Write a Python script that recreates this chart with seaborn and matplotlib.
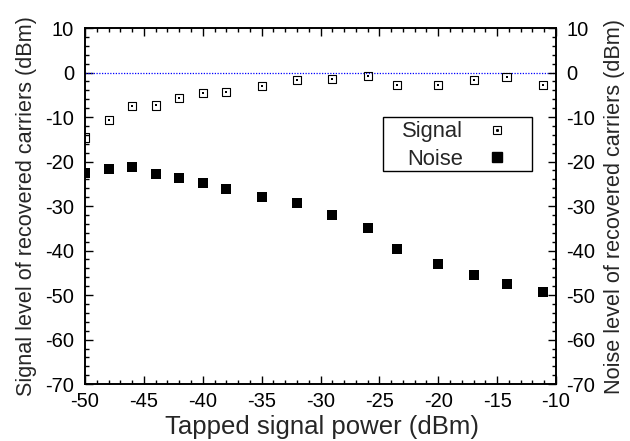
import numpy as np
import pandas as pd
import matplotlib
matplotlib.use("Agg")
import matplotlib.pyplot as plt
import seaborn as sns
from matplotlib.ticker import MultipleLocator
from matplotlib.legend_handler import HandlerTuple
from matplotlib.patches import Rectangle

# tapped signal power (dBm) and recovered carrier levels (dBm)
tapped_power = [-50, -48, -46, -44, -42, -40, -38, -35, -32, -29, -26, -23.5, -20, -17, -14.2, -11.1]
signal_level = [-14.6, -10.7, -7.6, -7.4, -5.7, -4.6, -4.45, -3.1, -1.7, -1.4, -0.8, -2.9, -2.9, -1.75, -1.1, -2.9]
noise_level = [-22.6, -21.7, -21.3, -22.9, -23.8, -24.9, -26.2, -28.0, -29.4, -32.1, -35.0, -39.7, -43.0, -45.6, -47.4, -49.4]

df = pd.DataFrame({"power": tapped_power, "signal": signal_level, "noise": noise_level})

sns.set_theme(style="ticks")
plt.rcParams["font.family"] = ["Liberation Sans", "DejaVu Sans"]
plt.rcParams["axes.unicode_minus"] = False

fig = plt.figure(figsize=(6.3, 4.41), dpi=100)
ax = fig.add_axes([0.135, 0.129, 0.7475, 0.8075])

ax.axhline(0, color="#0000ff", linestyle=(0, (1.0, 1.2)), linewidth=0.9, zorder=1)

sns.scatterplot(data=df, x="power", y="signal", ax=ax, marker="s", s=34,
                facecolor="none", edgecolor="black", linewidth=0.8, zorder=3)
sns.scatterplot(data=df, x="power", y="signal", ax=ax, marker="s", s=1.5,
                color="black", linewidth=0, zorder=3)
sns.scatterplot(data=df, x="power", y="noise", ax=ax, marker="s", s=52,
                color="black", linewidth=0, zorder=3)

ax.set_xlim(-50, -10)
ax.set_ylim(-70, 10)
ax.xaxis.set_major_locator(MultipleLocator(5))
ax.xaxis.set_minor_locator(MultipleLocator(1))
ax.yaxis.set_major_locator(MultipleLocator(10))
ax.yaxis.set_minor_locator(MultipleLocator(2))
ax.tick_params(which="both", direction="in", top=True, right=False,
               labelsize=14.5, width=1, colors="black")
ax.tick_params(axis="x", pad=6)
ax.tick_params(axis="y", pad=8)
ax.tick_params(which="major", length=6)
ax.tick_params(which="minor", length=3)
for sp in ax.spines.values():
    sp.set_linewidth(1.2)
    sp.set_color("black")

# right axis mirrors the left scale
ax2 = ax.twinx()
ax2.set_ylim(-70, 10)
ax2.yaxis.set_major_locator(MultipleLocator(10))
ax2.yaxis.set_minor_locator(MultipleLocator(2))
ax2.tick_params(which="both", direction="in", labelsize=14.5, width=1, colors="black", pad=7.5)
ax2.tick_params(which="major", length=6)
ax2.tick_params(which="minor", length=3)
for sp in ax2.spines.values():
    sp.set_linewidth(1.2)
    sp.set_color("black")

ax.set_xlabel("Tapped signal power (dBm)", fontsize=18.5)
ax.xaxis.set_label_coords(0.503, -0.088)
ax.set_ylabel("Signal level of recovered carriers (dBm)", fontsize=15.6)
ax.yaxis.set_label_coords(-0.101, 0.5)
ax2.set_ylabel("Noise level of recovered carriers (dBm)", fontsize=15.6)
ax2.yaxis.set_label_coords(1.101, 0.5)

# gnuplot-style key: label first, marker on the right, boxed
ax.add_patch(Rectangle((0.633, 0.598), 0.316, 0.152, transform=ax.transAxes,
                       fill=False, edgecolor="black", linewidth=1.0, zorder=4))
h_open = plt.Line2D([], [], marker="s", markersize=6.2, markerfacecolor="none",
                    markeredgecolor="black", markeredgewidth=0.8, linestyle="none")
h_dot = plt.Line2D([], [], marker="s", markersize=1.1, color="black", linestyle="none")
h_fill = plt.Line2D([], [], marker="s", markersize=7.5, color="black", linestyle="none")
leg = ax.legend([(h_open, h_dot), h_fill], ["Signal", "Noise"],
                handler_map={tuple: HandlerTuple(ndivide=1, pad=0)},
                loc="upper right", bbox_to_anchor=(0.898, 0.738), markerfirst=False,
                fontsize=15.8, frameon=False, borderpad=0, borderaxespad=0,
                labelspacing=0.3, handletextpad=1.05, handlelength=1.0)

fig.savefig("out.png", dpi=100)
